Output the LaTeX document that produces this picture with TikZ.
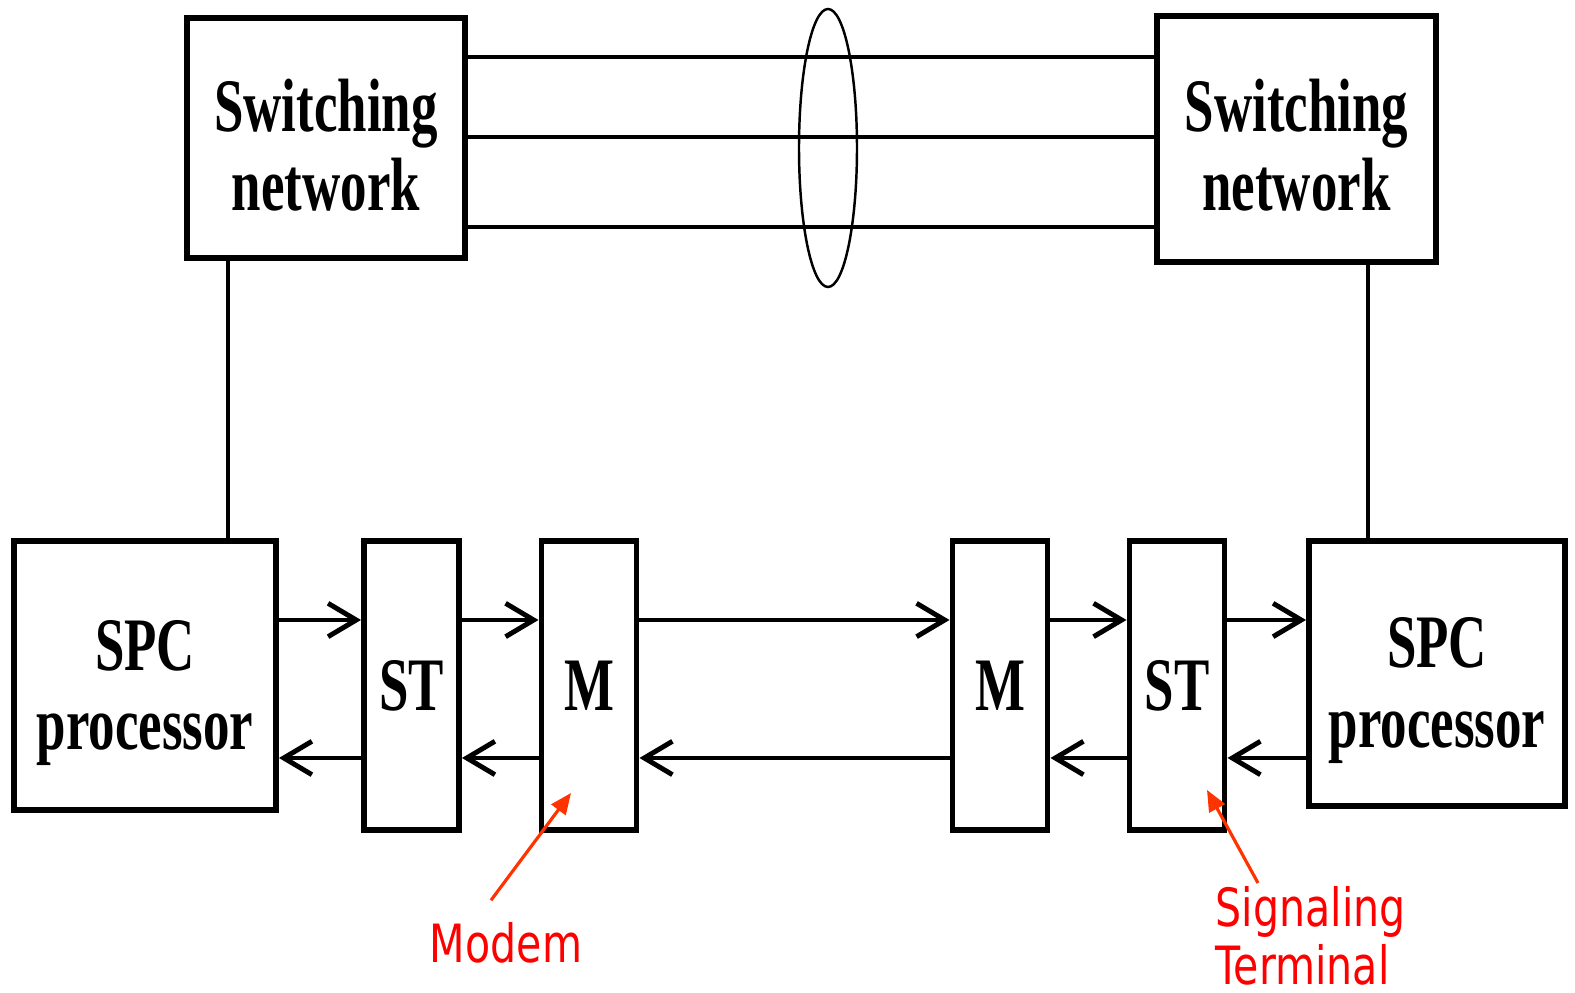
\documentclass[tikz,border=0pt]{standalone}
\usepackage{fontspec}
\setmainfont{Liberation Serif}
\newfontfamily\blockfont[FakeStretch=0.7]{Liberation Serif}
\newfontfamily\notefont[FakeStretch=0.78]{DejaVu Sans}
\usetikzlibrary{arrows.meta,shapes.geometric}
\definecolor{notered}{RGB}{255,0,0}
\definecolor{pointred}{RGB}{255,51,0}
\begin{document}
\begin{tikzpicture}[>={Straight Barb[length=8pt,width=9.5pt,line width=1.4pt]},
  block/.style={draw, line width=1.7pt, align=center, inner sep=0pt,
    font=\blockfont\bfseries\fontsize{21.5}{22.5}\selectfont},
  slim/.style={block, minimum width=0.95cm, minimum height=2.89cm},
  caption/.style={align=center, inner sep=0pt,
    font=\blockfont\bfseries\fontsize{21.5}{22.5}\selectfont},
  wire/.style={line width=1.1pt},
  note/.style={text=notered, inner sep=0pt, align=left,
    font=\notefont\fontsize{15}{16.5}\selectfont},
  pointer/.style={draw=pointred, line width=0.9pt, -{Triangle[length=6pt,width=5pt]}}]
\useasboundingbox (0,0) rectangle (15.75,9.93);
% Switching networks
\node[block, minimum width=2.78cm, minimum height=2.40cm,
  label={[caption, name=swLtext, yshift=-0.07cm]center:Switching\\network}] (swL) at (3.26,8.55) {};
\node[block, minimum width=2.79cm, minimum height=2.46cm,
  label={[caption, name=swRtext, yshift=-0.06cm]center:Switching\\network}] (swR) at (12.965,8.54) {};
% Trunks
\foreach \y in {9.36,8.56,7.66}
  \draw[wire] (swL.east |- 0,\y) -- (swR.west |- 0,\y);
\node[draw, ellipse, line width=0.7pt, minimum width=0.58cm, minimum height=2.78cm] (bundle) at (8.28,8.45) {};
% Processors and signaling chain
\node[block, minimum width=2.62cm, minimum height=2.69cm,
  label={[caption, name=spcLtext, yshift=-0.175cm]center:SPC\\processor}] (spcL) at (1.45,3.175) {};
\node[slim] (stL) at (4.115,3.075) {ST};
\node[slim] (mL) at (5.89,3.075) {M};
\node[slim] (mR) at (10.00,3.075) {M};
\node[slim] (stR) at (11.77,3.075) {ST};
\node[block, minimum width=2.56cm, minimum height=2.65cm,
  label={[caption, name=spcRtext, yshift=-0.17cm]center:SPC\\processor}] (spcR) at (14.37,3.195) {};
% Control links
\coordinate (tapL) at (2.28,0);
\coordinate (tapR) at (13.68,0);
\draw[line width=0.9pt] (swL.south -| tapL) -- (spcL.north -| tapL);
\draw[line width=0.9pt] (swR.south -| tapR) -- (spcR.north -| tapR);
% Signaling paths
\coordinate (up) at (0,3.73);
\coordinate (dn) at (0,2.35);
\foreach \a/\b in {spcL/stL, stL/mL, mL/mR, mR/stR, stR/spcR} {
  \draw[wire,->] (\a.east |- up) -- (\b.west |- up);
  \draw[wire,->] (\b.west |- dn) -- (\a.east |- dn);
}
% Annotations
\node[note, anchor=base] (modem) at (5.06,0.30) {Modem};
\draw[pointer] ([xshift=-0.15cm,yshift=0.22cm]modem.north) -- ([xshift=-0.18cm,yshift=-1.075cm]mL.center);
\node[note, anchor=north west] (sigterm) at (12.15,1.07) {Signaling\\Terminal};
\draw[pointer] ([xshift=0.43cm,yshift=0.03cm]sigterm.north west) -- ([xshift=0.30cm,yshift=-1.045cm]stR.center);
\end{tikzpicture}
\end{document}
